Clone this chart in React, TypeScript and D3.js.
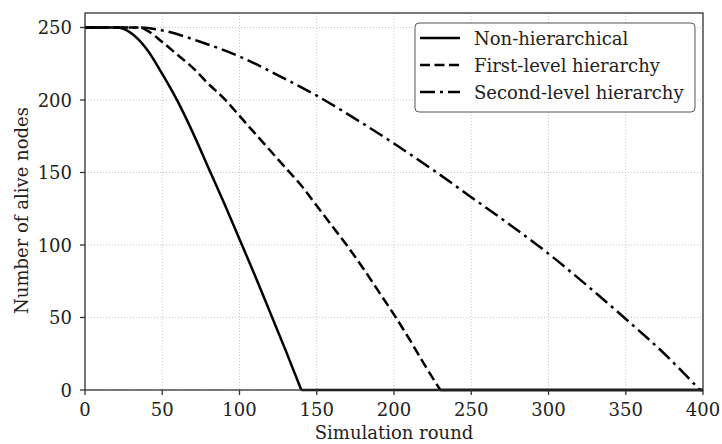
import * as d3 from "d3";

// simulation rounds and surviving nodes
const nonHierRounds = [0, 10, 20, 25, 30, 40, 50, 60, 70, 80, 90, 100, 110, 120, 130, 140];
const nonHierAlive = [250, 250, 250, 249, 246, 235, 218, 199, 177, 153, 129, 104, 79, 53, 27, 0];

const firstRounds = [0, 35, 40, 50, 60, 70, 80, 90, 100, 110, 120, 130, 140, 150, 160, 170, 180, 190, 200, 210, 220, 230];
const firstAlive = [250, 250, 248, 240, 231, 222, 211, 201, 189, 177, 165, 153, 141, 127, 113, 99, 84, 68, 52, 35, 17, 0];

const secondRounds = [0, 35, 50, 75, 100, 125, 150, 175, 200, 225, 250, 275, 300, 325, 350, 375, 398];
const secondAlive = [250, 250, 248, 240, 230, 217, 203, 187, 170, 152, 133, 114, 94, 72, 49, 25, 0];

const lastRound = 400;

const seriesNames = ["Non-hierarchical", "First-level hierarchy", "Second-level hierarchy"];
const dashes = ["none", "10,4.5", "15,5,3,5"];

const xTicks = [0, 50, 100, 150, 200, 250, 300, 350, 400];
const yTicks = [0, 50, 100, 150, 200, 250];

const W = 722;
const H = 444;
const m = { left: 85, right: 19, top: 13, bottom: 54 };
const font = "DejaVu Serif";
const fs = 18;

export default function App() {
  const x = d3.scaleLinear().domain([0, 400]).range([m.left, W - m.right]);
  const y = d3.scaleLinear().domain([0, 260]).range([H - m.bottom, m.top]);
  const line = d3
    .line<[number, number]>()
    .x((d) => x(d[0]))
    .y((d) => y(d[1]))
    .curve(d3.curveMonotoneX);

  const series = [
    d3.zip(nonHierRounds, nonHierAlive) as [number, number][],
    d3.zip(firstRounds, firstAlive) as [number, number][],
    d3.zip(secondRounds, secondAlive) as [number, number][],
  ];

  const x0 = m.left;
  const x1 = W - m.right;
  const y0 = H - m.bottom;
  const y1 = m.top;

  return (
    <svg
      width={W}
      height={H}
      style={{ position: "absolute", left: 0, top: 0, background: "white" }}
      fontFamily={font}
    >
      <defs>
        <clipPath id="plot">
          <rect x={x0} y={y1 - 2} width={x1 - x0} height={y0 - y1 + 4} />
        </clipPath>
      </defs>
      {/* grid */}
      <g stroke="#bbb" strokeWidth={0.8} strokeDasharray="1,2">
        {xTicks.map((t) => (
          <line key={"gx" + t} x1={x(t)} x2={x(t)} y1={y1} y2={y0} />
        ))}
        {yTicks.map((t) => (
          <line key={"gy" + t} x1={x0} x2={x1} y1={y(t)} y2={y(t)} />
        ))}
      </g>
      {/* curves: falling part smooth, then flat at zero until the last round */}
      <g clipPath="url(#plot)" fill="none" stroke="#000" strokeWidth={2.5}>
        {series.map((s, i) => {
          const end = s[s.length - 1];
          return (
            <g key={i}>
              <path d={line(s) ?? ""} strokeDasharray={dashes[i]} />
              <line x1={x(end[0])} x2={x(lastRound)} y1={y(0)} y2={y(0)} />
            </g>
          );
        })}
      </g>
      {/* frame */}
      <rect x={x0} y={y1} width={x1 - x0} height={y0 - y1} fill="none" stroke="#333" strokeWidth={1.3} />
      {/* ticks */}
      <g stroke="#333" strokeWidth={1.3}>
        {xTicks.map((t) => (
          <line key={"tx" + t} x1={x(t)} x2={x(t)} y1={y0} y2={y0 + 5} />
        ))}
        {yTicks.map((t) => (
          <line key={"ty" + t} x1={x0 - 5} x2={x0} y1={y(t)} y2={y(t)} />
        ))}
      </g>
      <g fontSize={fs} fill="#222">
        {xTicks.map((t) => (
          <text key={"lx" + t} x={x(t)} y={y0 + 26} textAnchor="middle">
            {t}
          </text>
        ))}
        {yTicks.map((t) => (
          <text key={"ly" + t} x={x0 - 13} y={y(t) + 6.5} textAnchor="end">
            {t}
          </text>
        ))}
      </g>
      <text x={(x0 + x1) / 2} y={H - 5} textAnchor="middle" fontSize={fs} fill="#222">
        Simulation round
      </text>
      <text
        transform={`translate(${28},${(y0 + y1) / 2 + 9}) rotate(-90)`}
        textAnchor="middle"
        fontSize={fs}
        fill="#222"
      >
        Number of alive nodes
      </text>
      {/* legend */}
      <g transform="translate(415,23)">
        <rect width={280} height={89} rx={4} fill="white" stroke="#555" strokeWidth={1} />
        {seriesNames.map((n, i) => (
          <g key={n} transform={`translate(0,${15 + i * 27})`}>
            <line x1={5} x2={45} y1={0} y2={0} stroke="#000" strokeWidth={2.5} strokeDasharray={dashes[i]} />
            <text x={59} y={6.5} fontSize={fs} fill="#222">
              {n}
            </text>
          </g>
        ))}
      </g>
    </svg>
  );
}
